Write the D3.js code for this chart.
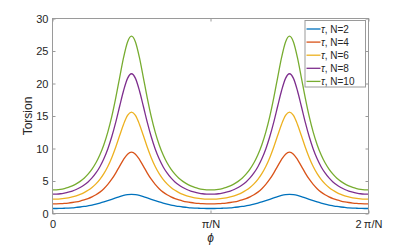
<!DOCTYPE html>
<html>
<head>
<meta charset="utf-8">
<script src="https://cdn.jsdelivr.net/npm/d3@7"></script>
<style>
  html, body { margin: 0; padding: 0; background: #fff; }
  svg { display: block; }
  text { font-family: "Liberation Sans", Arial, Helvetica, sans-serif; fill: #262626; }
</style>
</head>
<body>
<svg id="chart" width="407" height="247"></svg>
<script>
// phi in units of pi/N
const phi = [0, 0.025, 0.05, 0.075, 0.1, 0.125, 0.15, 0.175, 0.2, 0.225, 0.25, 0.275, 0.3, 0.325, 0.35, 0.375, 0.4, 0.425, 0.45, 0.475,
             0.5, 0.525, 0.55, 0.575, 0.6, 0.625, 0.65, 0.675, 0.7, 0.725, 0.75, 0.775, 0.8, 0.825, 0.85, 0.875, 0.9, 0.925, 0.95, 0.975,
             1.0, 1.025, 1.05, 1.075, 1.1, 1.125, 1.15, 1.175, 1.2, 1.225, 1.25, 1.275, 1.3, 1.325, 1.35, 1.375, 1.4, 1.425, 1.45, 1.475,
             1.5, 1.525, 1.55, 1.575, 1.6, 1.625, 1.65, 1.675, 1.7, 1.725, 1.75, 1.775, 1.8, 1.825, 1.85, 1.875, 1.9, 1.925, 1.95, 1.975, 2.0];

const tauN2 = [0.77, 0.77, 0.79, 0.81, 0.84, 0.88, 0.94, 1.00, 1.08, 1.18, 1.29, 1.43, 1.59, 1.77, 1.97, 2.18, 2.40, 2.61, 2.79, 2.91,
               2.95, 2.91, 2.79, 2.61, 2.40, 2.18, 1.97, 1.77, 1.59, 1.43, 1.29, 1.18, 1.08, 1.00, 0.94, 0.88, 0.84, 0.81, 0.79, 0.77,
               0.77, 0.77, 0.79, 0.81, 0.84, 0.88, 0.94, 1.00, 1.08, 1.18, 1.29, 1.43, 1.59, 1.77, 1.97, 2.18, 2.40, 2.61, 2.79, 2.91,
               2.95, 2.91, 2.79, 2.61, 2.40, 2.18, 1.97, 1.77, 1.59, 1.43, 1.29, 1.18, 1.08, 1.00, 0.94, 0.88, 0.84, 0.81, 0.79, 0.77, 0.77];
const tauN4 = [1.48, 1.49, 1.51, 1.55, 1.61, 1.69, 1.79, 1.92, 2.09, 2.29, 2.55, 2.88, 3.29, 3.81, 4.47, 5.27, 6.22, 7.29, 8.33, 9.13,
               9.43, 9.13, 8.33, 7.29, 6.22, 5.27, 4.47, 3.81, 3.29, 2.88, 2.55, 2.29, 2.09, 1.92, 1.79, 1.69, 1.61, 1.55, 1.51, 1.49,
               1.48, 1.49, 1.51, 1.55, 1.61, 1.69, 1.79, 1.92, 2.09, 2.29, 2.55, 2.88, 3.29, 3.81, 4.47, 5.27, 6.22, 7.29, 8.33, 9.13,
               9.43, 9.13, 8.33, 7.29, 6.22, 5.27, 4.47, 3.81, 3.29, 2.88, 2.55, 2.29, 2.09, 1.92, 1.79, 1.69, 1.61, 1.55, 1.51, 1.49, 1.48];
const tauN6 = [2.20, 2.21, 2.25, 2.32, 2.42, 2.55, 2.72, 2.94, 3.22, 3.57, 4.01, 4.56, 5.26, 6.13, 7.23, 8.58, 10.19, 11.99, 13.74, 15.09,
               15.60, 15.09, 13.74, 11.99, 10.19, 8.58, 7.23, 6.13, 5.26, 4.56, 4.01, 3.57, 3.22, 2.94, 2.72, 2.55, 2.42, 2.32, 2.25, 2.21,
               2.20, 2.21, 2.25, 2.32, 2.42, 2.55, 2.72, 2.94, 3.22, 3.57, 4.01, 4.56, 5.26, 6.13, 7.23, 8.58, 10.19, 11.99, 13.74, 15.09,
               15.60, 15.09, 13.74, 11.99, 10.19, 8.58, 7.23, 6.13, 5.26, 4.56, 4.01, 3.57, 3.22, 2.94, 2.72, 2.55, 2.42, 2.32, 2.25, 2.21, 2.20];
const tauN8 = [2.97, 2.99, 3.04, 3.14, 3.27, 3.45, 3.69, 4.00, 4.38, 4.86, 5.47, 6.24, 7.20, 8.41, 9.93, 11.80, 14.02, 16.50, 18.93, 20.79,
               21.50, 20.79, 18.93, 16.50, 14.02, 11.80, 9.93, 8.41, 7.20, 6.24, 5.47, 4.86, 4.38, 4.00, 3.69, 3.45, 3.27, 3.14, 3.04, 2.99,
               2.97, 2.99, 3.04, 3.14, 3.27, 3.45, 3.69, 4.00, 4.38, 4.86, 5.47, 6.24, 7.20, 8.41, 9.93, 11.80, 14.02, 16.50, 18.93, 20.79,
               21.50, 20.79, 18.93, 16.50, 14.02, 11.80, 9.93, 8.41, 7.20, 6.24, 5.47, 4.86, 4.38, 4.00, 3.69, 3.45, 3.27, 3.14, 3.04, 2.99, 2.97];
const tauN10 = [3.63, 3.65, 3.72, 3.84, 4.01, 4.25, 4.55, 4.94, 5.43, 6.05, 6.83, 7.80, 9.03, 10.58, 12.52, 14.90, 17.75, 20.92, 24.02, 26.40,
                27.30, 26.40, 24.02, 20.92, 17.75, 14.90, 12.52, 10.58, 9.03, 7.80, 6.83, 6.05, 5.43, 4.94, 4.55, 4.25, 4.01, 3.84, 3.72, 3.65,
                3.63, 3.65, 3.72, 3.84, 4.01, 4.25, 4.55, 4.94, 5.43, 6.05, 6.83, 7.80, 9.03, 10.58, 12.52, 14.90, 17.75, 20.92, 24.02, 26.40,
                27.30, 26.40, 24.02, 20.92, 17.75, 14.90, 12.52, 10.58, 9.03, 7.80, 6.83, 6.05, 5.43, 4.94, 4.55, 4.25, 4.01, 3.84, 3.72, 3.65, 3.63];

const seriesNames = ["N=2", "N=4", "N=6", "N=8", "N=10"];
const seriesValues = [tauN2, tauN4, tauN6, tauN8, tauN10];
const colors = ["#0072BD", "#D95319", "#EDB120", "#7E2F8E", "#77AC30"];

const xTickValues = [0, 1, 2];
const xTickLabels = ["0", "\u03C0/N", "2\u2009\u03C0/N"];
const yTickValues = [0, 5, 10, 15, 20, 25, 30];

const svg = d3.select("#chart");
const L = 52.5, R = 368.5, T = 18.5, B = 213.5;

const x = d3.scaleLinear().domain([0, 2]).range([L, R]);
const y = d3.scaleLinear().domain([0, 30]).range([B, T]);

const axisColor = "#9a9a9a";
const tickLen = 3;

const line = d3.line()
  .x((d, i) => x(phi[i]))
  .y(d => y(d))
  .curve(d3.curveMonotoneX);

svg.append("clipPath").attr("id", "clip")
  .append("rect").attr("x", L).attr("y", T).attr("width", R - L).attr("height", B - T);

svg.append("g").attr("clip-path", "url(#clip)")
  .selectAll("path").data(seriesValues).join("path")
  .attr("d", d => line(d))
  .attr("fill", "none")
  .attr("stroke", (d, i) => colors[i])
  .attr("stroke-width", 1.3);

const gLeft = svg.append("g").attr("transform", `translate(${L},0)`)
  .call(d3.axisLeft(y).tickValues(yTickValues).tickSize(-tickLen).tickPadding(4).tickFormat(d3.format("d")));
const gRight = svg.append("g").attr("transform", `translate(${R},0)`)
  .call(d3.axisRight(y).tickValues(yTickValues).tickSize(-tickLen).tickFormat(""));
const gBottom = svg.append("g").attr("transform", `translate(0,${B})`)
  .call(d3.axisBottom(x).tickValues(xTickValues).tickSize(-tickLen).tickPadding(6.5).tickFormat((d, i) => xTickLabels[i]));
const gTop = svg.append("g").attr("transform", `translate(0,${T})`)
  .call(d3.axisTop(x).tickValues(xTickValues).tickSize(-tickLen).tickFormat(""));

[gLeft, gRight, gBottom, gTop].forEach(g => {
  g.select(".domain").remove();
  g.selectAll(".tick line").attr("stroke", axisColor).attr("stroke-width", 1);
  g.selectAll(".tick text").attr("fill", "#262626")
    .style("font-family", '"Liberation Sans", Arial, sans-serif').style("font-size", "11px");
});
svg.append("rect").attr("x", L).attr("y", T).attr("width", R - L).attr("height", B - T)
  .attr("fill", "none").attr("stroke", axisColor).attr("stroke-width", 1);

svg.append("text")
  .attr("transform", `translate(31.5,${(T + B) / 2}) rotate(-90)`)
  .attr("text-anchor", "middle")
  .style("font-size", "12px")
  .text("Torsion");

svg.append("text")
  .attr("x", (L + R) / 2).attr("y", 242)
  .attr("text-anchor", "middle")
  .style("font-size", "12px")
  .style("font-style", "italic")
  .text("\u03D5");

// legend
const lgX = 305, lgY = 20.5, lgW = 60.5, lgH = 66.5;
svg.append("rect").attr("x", lgX).attr("y", lgY).attr("width", lgW).attr("height", lgH)
  .attr("fill", "#fff").attr("stroke", axisColor).attr("stroke-width", 1);
const rowY = i => 29 + i * 13.1;
const lg = svg.append("g");
seriesNames.forEach((name, i) => {
  lg.append("line")
    .attr("x1", lgX + 1.5).attr("x2", lgX + 15.5)
    .attr("y1", rowY(i)).attr("y2", rowY(i))
    .attr("stroke", colors[i]).attr("stroke-width", 1.3);
  const t = lg.append("text")
    .attr("x", lgX + 16).attr("y", rowY(i) + 3.6)
    .style("font-size", "10px");
  t.append("tspan").style("font-style", "italic").text("\u03C4");
  t.append("tspan").text(", " + name);
});
</script>
</body>
</html>
